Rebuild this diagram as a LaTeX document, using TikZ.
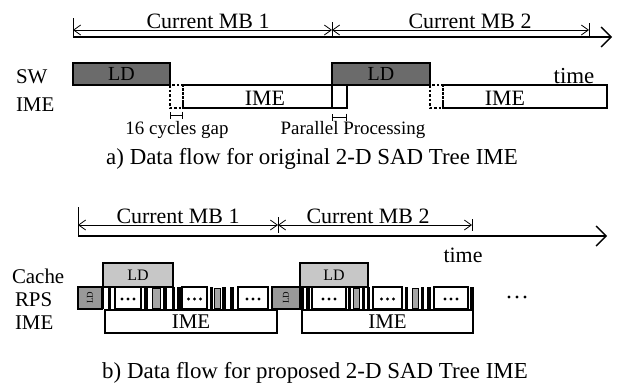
\documentclass[tikz,border=0pt]{standalone}
\usepackage{fontspec}
\setmainfont{Liberation Serif}
\usetikzlibrary{arrows.meta}

\newcommand{\fsz}[1]{\fontsize{#1}{#1}\selectfont}

\begin{document}
\begin{tikzpicture}[x=1bp, y=-1bp,
  txt/.style={anchor=base, inner sep=0pt, outer sep=0pt},
  lbl/.style={anchor=base west, inner sep=0pt, outer sep=0pt, font=\fsz{21}},
  dim/.style={line width=0.8pt, {Straight Barb[length=7bp,width=10bp]}-{Straight Barb[length=7bp,width=10bp]}},
  tick/.style={line width=0.8pt},
  timeaxis/.style={line width=1.6pt, -{Straight Barb[length=10bp,width=20bp,line width=1.4pt]}},
  box/.style={draw, line width=1.6pt, inner sep=0pt, outer sep=0pt, anchor=north west},
  swld/.style={box, fill=black!58, font=\fsz{20}},
  cacheld/.style={box, fill=black!22, font=\fsz{16}},
  gapbox/.style={draw, dashed, line width=1.2pt, dash pattern=on 2.5bp off 2bp},
  gapdim/.style={line width=0.8pt, {Bar[width=7bp]}-{Bar[width=7bp]}},
  rbar/.style={fill=black},
  gbar/.style={fill=black!35, draw=black, line width=0.6pt},
  dotbox/.style={box, line width=1.1pt},
  ldgap/.style={box, line width=1.8pt, fill=black!40, font=\fsz{9}}
]
\useasboundingbox (0,0) rectangle (624,391);

% ---------------- a) original data flow ----------------
\coordinate (a0) at (73,30);
\coordinate (a1) at (332,30);
\coordinate (a2) at (589,30);
\draw[dim] (a0) -- (a1);
\draw[dim] (a1) -- (a2);
\draw[tick] (73,18) -- (73,37);
\draw[tick] (332,22) -- (332,38);
\draw[tick] (589,23) -- (589,36);
\node[txt, font=\fsz{22}] (mba1) at (208,28) {Current MB 1};
\node[txt, font=\fsz{22}] (mba2) at (470,28) {Current MB 2};
\coordinate (ta0) at (73,37);
\coordinate (ta1) at (612,37);
\draw[timeaxis] (ta0) -- (ta1);
\node[txt, font=\fsz{23}] (timea) at (574,83) {time};

\node[lbl] (lsw) at (16,83) {SW};
\node[lbl] (lime) at (16,111) {IME};

\node[swld, minimum width=97bp, minimum height=22bp] (ld1) at (73,63) {LD};
\node[swld, minimum width=98bp, minimum height=22bp] (ld2) at (332,63) {LD};

% 16-cycle gaps before each IME stage
\draw[gapbox] (170,85) rectangle (183,108);
\draw[gapbox] (430,85) rectangle (443,108);
\draw[line width=1.6pt] (183,85) -- (347,85) -- (347,108) -- (183,108);
\draw[line width=1.8pt, dotted] (183,85) -- (183,108);
\draw[line width=1.6pt] (332,85) -- (332,108);
\node[txt, font=\fsz{22}] (imea1) at (265,105) {IME};
\draw[line width=1.6pt] (443,85) -- (607,85) -- (607,108) -- (443,108);
\draw[line width=1.8pt, dotted] (443,85) -- (443,108);
\node[txt, font=\fsz{22}] (imea2) at (505,105) {IME};

\draw[gapdim] (170,115) -- (183,115);
\draw[gapdim] (332,117) -- (347,117);
\node[txt, font=\fsz{19}] (gaptxt) at (177,134) {16 cycles gap};
\node[txt, font=\fsz{19}] (partxt) at (353,134) {Parallel Processing};

\node[txt, font=\fsz{23}] (capa) at (312,164) {a) Data flow for original 2-D SAD Tree IME};

% ---------------- b) proposed data flow ----------------
\coordinate (b0) at (78,225);
\coordinate (b1) at (278,225);
\coordinate (b2) at (472,225);
\draw[dim] (b0) -- (b1);
\draw[dim] (b1) -- (b2);
\draw[tick] (78,207) -- (78,236);
\draw[tick] (278,217) -- (278,233);
\draw[tick] (472,219) -- (472,231);
\node[txt, font=\fsz{22}] (mbb1) at (178,223) {Current MB 1};
\node[txt, font=\fsz{22}] (mbb2) at (368,223) {Current MB 2};
\coordinate (tb0) at (78,236);
\coordinate (tb1) at (607,236);
\draw[timeaxis] (tb0) -- (tb1);
\node[txt, font=\fsz{22}] (timeb) at (463,262) {time};

\node[lbl] (lcache) at (12,283) {Cache};
\node[lbl] (lrps) at (15,306) {RPS};
\node[lbl] (limeb) at (15,329) {IME};

\node[cacheld, minimum width=70bp, minimum height=24bp] (cld1) at (103,263) {LD};
\node[cacheld, minimum width=68bp, minimum height=24bp] (cld2) at (300,263) {LD};

% RPS row: load slots, search bars and repeated work
\node[ldgap, minimum width=24bp, minimum height=22bp] (rg1) at (78,287) {\rotatebox{90}{LD}};
\node[ldgap, minimum width=28bp, minimum height=22bp] (rg2) at (272,287) {\rotatebox{90}{LD}};
\foreach \xa/\xb in {101/104, 108/111, 144/148, 163/167, 172/175, 177/181, 210/213, 222/226, 230/234,
                     301/304, 306/310, 348/351, 362/365, 367/370, 405/408, 421/424, 427/431, 470/474}
  \fill[rbar] (\xa,287) rectangle (\xb,309);
\foreach \xa/\xb in {152/160, 214/220, 353/359, 412/418}
  \draw[gbar] (\xa,288) rectangle (\xb,308);
\foreach \xa/\xb/\nm in {115/141/d1, 182/207/d2, 238/268/d3, 312/346/d4, 373/402/d5, 434/468/d6} {
  \node[dotbox, minimum width={(\xb-\xa)*1bp}, minimum height=22bp] (\nm) at (\xa,287) {};
  \foreach \dx in {-6,0,6}
    \fill ([xshift=\dx bp, yshift=-1bp]\nm.center) circle (1.6bp);
}
\coordinate (more) at (517,297);
\foreach \dx in {-8,0,8}
  \fill ([xshift=\dx bp]more) circle (1.7bp);

\node[box, minimum width=172bp, minimum height=23bp, font=\fsz{21}] (imeb1) at (105,310) {IME};
\node[box, minimum width=171bp, minimum height=23bp, font=\fsz{21}] (imeb2) at (302,310) {IME};

\node[txt, font=\fsz{23}] (capb) at (315,378) {b) Data flow for proposed 2-D SAD Tree IME};
\end{tikzpicture}
\end{document}
